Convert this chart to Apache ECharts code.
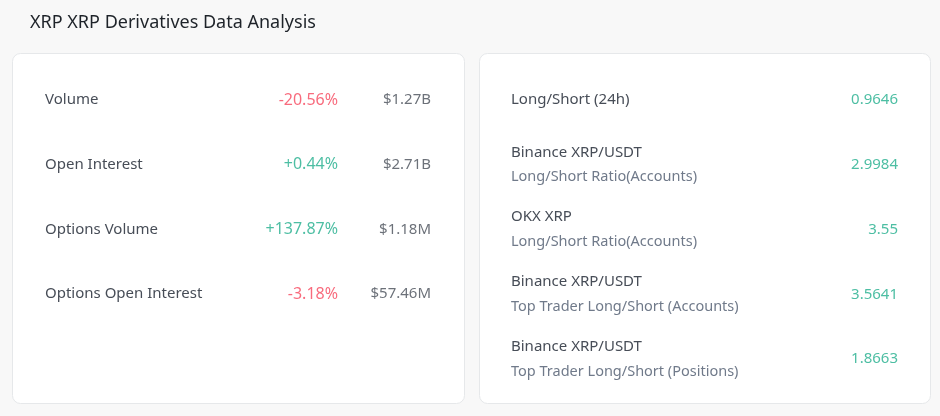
<!DOCTYPE html>
<html><head><meta charset="utf-8">
<script src="https://cdn.jsdelivr.net/npm/echarts@6/dist/echarts.min.js"></script>
<style>html,body{margin:0;padding:0;background:#f8f8f8;}#c{width:940px;height:416px;}</style>
</head><body><div id="c"></div>
<script>
const titleText = 'XRP XRP Derivatives Data Analysis';
const leftLabels = ['Volume', 'Open Interest', 'Options Volume', 'Options Open Interest'];
const leftChanges = [-20.56, 0.44, 137.87, -3.18];
const leftValues = ['$1.27B', '$2.71B', '$1.18M', '$57.46M'];
const rightTitles = ['Long/Short (24h)', 'Binance XRP/USDT', 'OKX XRP', 'Binance XRP/USDT', 'Binance XRP/USDT'];
const rightSubs = ['', 'Long/Short Ratio(Accounts)', 'Long/Short Ratio(Accounts)', 'Top Trader Long/Short (Accounts)', 'Top Trader Long/Short (Positions)'];
const rightValues = ['0.9646', '2.9984', '3.55', '3.5641', '1.8663'];

const FONT = 'Noto Sans';
const UP = '#20ae8c', DOWN = '#f6465d', DARK = '#1e2329', MID = '#474d57', SUB = '#707a8a';

const chart = echarts.init(document.getElementById('c'), null, {renderer: 'canvas'});

const leftData = [];
leftLabels.forEach((l, i) => {
  const c = leftChanges[i];
  leftData.push({value: [1, i], text: (c >= 0 ? '+' : '') + c.toFixed(2) + '%', label: {color: c >= 0 ? UP : DOWN, fontSize: 16}});
  leftData.push({value: [2, i], text: leftValues[i], label: {color: MID}});
});
const rightData = rightValues.map((v, i) => ({value: [1, i], text: v}));

const hiddenX = {show: true, axisLine: {show: false}, axisTick: {show: false}, axisLabel: {show: false}, splitLine: {show: false}};

chart.setOption({
  animation: false,
  backgroundColor: '#f8f8f8',
  title: {text: titleText, left: 25, top: 9, textStyle: {fontFamily: FONT, fontSize: 18, fontWeight: 'normal', color: DARK}},
  graphic: [
    {type: 'rect', shape: {x: 12.5, y: 53.5, width: 452, height: 350, r: 8}, style: {fill: '#fff', stroke: '#e6e8ea', lineWidth: 1}, z: -1},
    {type: 'rect', shape: {x: 479.5, y: 53.5, width: 451, height: 350, r: 8}, style: {fill: '#fff', stroke: '#e6e8ea', lineWidth: 1}, z: -1}
  ],
  grid: [
    {left: 245, right: 940 - 431, top: 100, bottom: 416 - 294},
    {left: 520, right: 940 - 898, top: 100, bottom: 416 - 359}
  ],
  xAxis: [
    Object.assign({type: 'category', gridIndex: 0, data: ['label', 'change', 'value'], boundaryGap: false}, hiddenX),
    Object.assign({type: 'category', gridIndex: 1, data: ['label', 'value'], boundaryGap: false}, hiddenX)
  ],
  yAxis: [
    {type: 'category', gridIndex: 0, inverse: true, boundaryGap: false, data: leftLabels,
     axisLine: {show: false}, axisTick: {show: false}, splitLine: {show: false},
     axisLabel: {align: 'left', margin: 245 - 45, fontFamily: FONT, fontSize: 15, color: MID}},
    {type: 'category', gridIndex: 1, inverse: true, boundaryGap: false, data: rightTitles.map((t, i) => i),
     axisLine: {show: false}, axisTick: {show: false}, splitLine: {show: false},
     axisLabel: {align: 'left', margin: 520 - 511, fontFamily: FONT, fontSize: 15, color: MID,
       formatter: (v, i) => rightSubs[i] ? '{a|' + rightTitles[i] + '}\n{b|' + rightSubs[i] + '}' : '{a|' + rightTitles[i] + '}',
       rich: {a: {fontFamily: FONT, fontSize: 15, color: MID, lineHeight: 25}, b: {fontFamily: FONT, fontSize: 14.5, color: SUB, lineHeight: 25}}}}
  ],
  series: [
    {type: 'scatter', xAxisIndex: 0, yAxisIndex: 0, symbolSize: 0, silent: true, data: leftData,
     label: {show: true, position: 'left', distance: 0, fontFamily: FONT, fontSize: 15, formatter: p => p.data.text}},
    {type: 'scatter', xAxisIndex: 1, yAxisIndex: 1, symbolSize: 0, silent: true, data: rightData,
     label: {show: true, position: 'left', distance: 0, fontFamily: FONT, fontSize: 15, color: UP, formatter: p => p.data.text}}
  ]
});
</script></body></html>
